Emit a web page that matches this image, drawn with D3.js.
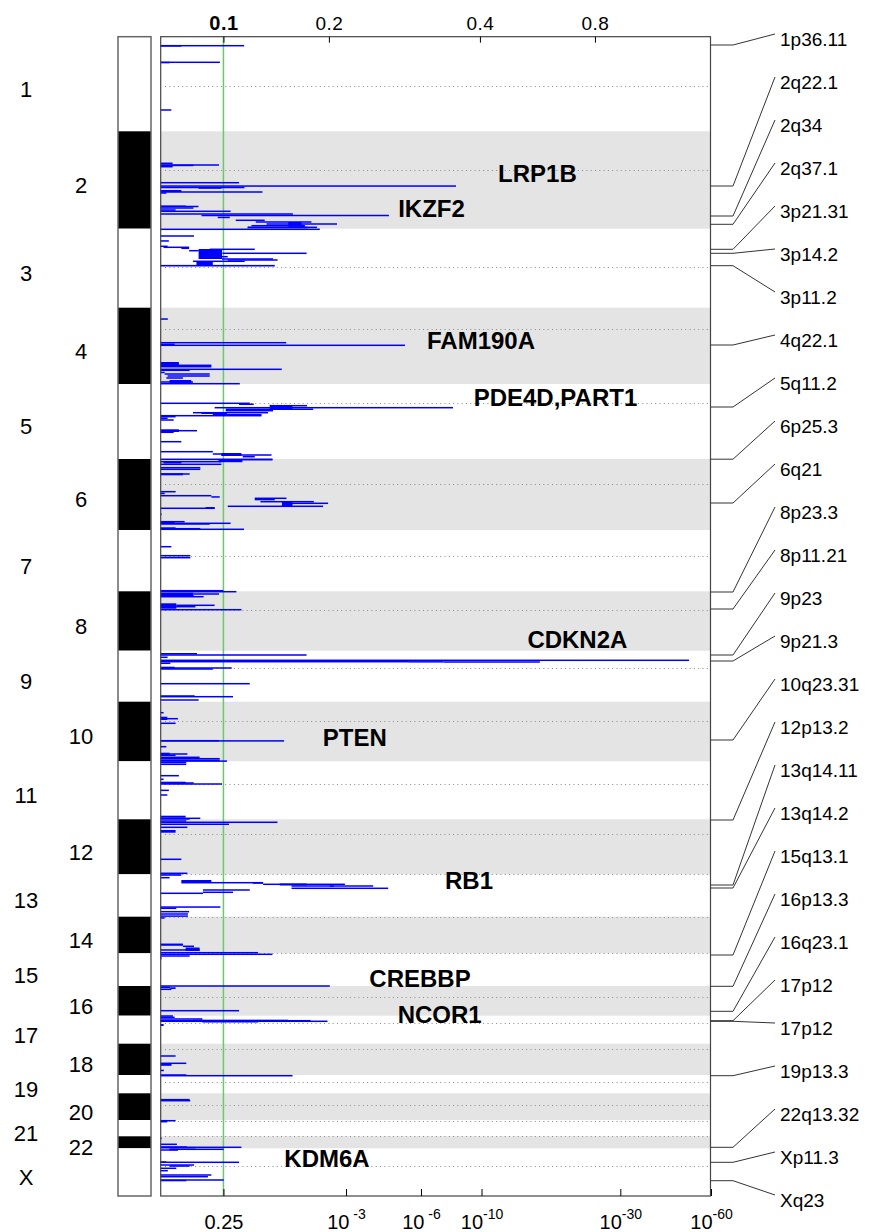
<!DOCTYPE html>
<html>
<head>
<meta charset="utf-8">
<script src="https://cdn.jsdelivr.net/npm/d3@7"></script>
<style>
    body { margin: 0; background: #fff; }
    svg { display: block; }
</style>
</head>
<body>
<div id="chart"></div>
<script>
// Chromosomes, their length on the plot (marker index / 10) and centromere position
var chromosomes = ["1", "2", "3", "4", "5", "6", "7", "8", "9", "10", "11", "12",
    "13", "14", "15", "16", "17", "18", "19", "20", "21", "22", "X"];
var chromLength = [946, 974, 790, 763, 750, 710, 613, 594, 510, 596, 580, 550,
    424, 366, 327, 297, 280, 313, 183, 267, 163, 120, 477];
var centromere = [493, 387, 380, 210, 190, 253, 257, 184, 176, 193, 227, 147,
    0, 0, 0, 107, 76, 53, 73, 114, 7, 0, 174];

// Deletion q-value trace: [chromosome, position, extent, from -log10(q), to -log10(q)]
var deletions = [
    ["1", 90, 0, 0, 0.87], ["1", 85, 10, 0, 0.17], ["1", 256, 0, 0, 0.56], ["1", 251, 10, 0, 0.072],
    ["1", 733, 0, 0, 0.086],
    ["2", 320, 0, 0, 0.096], ["2", 337, 0, 0, 0.55], ["2", 334, 8, 0, 0.28], ["2", 354, 0, 0, 0.096],
    ["2", 514, 0, 0, 0.80], ["2", 540, 14, 0, 8.09], ["2", 562, 0, 0, 0.875], ["2", 560, 6, 0.33, 0.58],
    ["2", 587, 20, 0, 0.17], ["2", 607, 0, 0, 1.144], ["2", 617, 0, 0, 0.046], ["2", 742, 15, 0, 0.21],
    ["2", 752, 0, 0, 0.33], ["2", 767, 0, 0, 0.28], ["2", 787, 0, 0, 0.121], ["2", 800, 0, 0, 0.69],
    ["2", 827, 0, 0, 1.69], ["2", 842, 0, 0.36, 4.51], ["2", 854, 10, 0.535, 0.68], ["2", 890, 0, 0.756, 1.18],
    ["2", 907, 0, 1.039, 2.09], ["2", 927, 0, 1.21, 2.74], ["2", 907, 40, 1.6, 1.87], ["2", 944, 0, 0.975, 1.94],
    ["2", 940, 12, 1.6, 1.94], ["2", 960, 0, 0.92, 2.22], ["2", 955, 12, 0.92, 2.0],
    ["3", 6, 0, 0, 2.29], ["3", 73, 0, 0, 0.286], ["3", 115, 12, 0, 0.066], ["3", 176, 0, 0, 0.056],
    ["3", 186, 0, 0.025, 0.24], ["3", 196, 0, 0.17, 0.24], ["3", 206, 0, 0.446, 1.024], ["3", 203, 100, 0.331, 0.585],
    ["3", 220, 0, 0.24, 0.331], ["3", 246, 0, 0.59, 1.98], ["3", 280, 0, 0.585, 0.654], ["3", 303, 0, 0.585, 1.32],
    ["3", 313, 0, 0.654, 1.40], ["3", 326, 0, 0.276, 0.878], ["3", 333, 30, 0.31, 0.48], ["3", 362, 16, 0, 1.35],
    ["4", 106, 10, 0, 0.058], ["4", 350, 0, 0, 1.56], ["4", 358, 14, 0, 0.113], ["4", 376, 0, 0, 5.21],
    ["4", 543, 40, 0, 0.149], ["4", 576, 0, 0, 0.464], ["4", 590, 0, 0, 0.464], ["4", 616, 0, 0, 1.476],
    ["4", 626, 0, 0, 0.245], ["4", 640, 10, 0, 0.033], ["4", 663, 0, 0.033, 0.446], ["4", 683, 0, 0.056, 0.446],
    ["4", 703, 0, 0.046, 0.184], ["4", 723, 30, 0.072, 0.26], ["4", 743, 0, 0, 0.276], ["4", 760, 0, 0, 0.81],
    ["5", 193, 0, 0, 0.95], ["5", 195, 12, 0.80, 1.009], ["5", 217, 0, 1.264, 1.99], ["5", 237, 0, 0.50, 7.89],
    ["5", 210, 50, 1.264, 1.683], ["5", 245, 15, 0.63, 2.13], ["5", 267, 0, 0.63, 1.32], ["5", 287, 0, 0.276, 1.236],
    ["5", 285, 10, 0.36, 0.645], ["5", 300, 12, 0.48, 1.128], ["5", 317, 0, 0, 1.128], ["5", 327, 0, 0, 0.121],
    ["5", 335, 15, 0, 0.056], ["5", 360, 0, 0, 0.105], ["5", 453, 27, 0, 0.149], ["5", 467, 0, 0, 0.315],
    ["5", 483, 0, 0, 0.105], ["5", 577, 0, 0, 0.17], ["5", 677, 0, 0, 0.48], ["5", 690, 30, 0.578, 0.832],
    ["5", 700, 0, 0.48, 0.585], ["5", 710, 0, 0.578, 1.293], ["5", 727, 0, 0.85, 1.024],
    ["6", 3, 0, 0, 1.31], ["6", 7, 0, 0.535, 1.31], ["6", 2, 30, 0.55, 0.846], ["6", 27, 0, 0, 0.578],
    ["6", 37, 0, 0.025, 0.17], ["6", 53, 0, 0, 0.578], ["6", 87, 0, 0, 0.348], ["6", 103, 0, 0, 0.348],
    ["6", 143, 20, 0, 0.184], ["6", 150, 0, 0, 0.245], ["6", 327, 0, 0, 0.121], ["6", 337, 12, 0, 0.033],
    ["6", 367, 0, 0, 0.464], ["6", 372, 12, 0.464, 0.558], ["6", 393, 0, 1.024, 1.565], ["6", 398, 14, 1.024, 1.35],
    ["6", 427, 0, 1.112, 2.146], ["6", 443, 0, 1.533, 2.50], ["6", 430, 40, 1.48, 1.683], ["6", 473, 0, 0.654, 2.372],
    ["6", 493, 0, 0, 0.50], ["6", 480, 20, 0.403, 0.50], ["6", 553, 0, 0, 0.01], ["6", 627, 23, 0, 0.113],
    ["6", 627, 0, 0, 0.199], ["6", 643, 0, 0, 0.69], ["6", 650, 0, 0, 0.446], ["6", 683, 27, 0, 0.121],
    ["6", 697, 0, 0, 0.348], ["6", 703, 0, 0, 0.868],
    ["7", 167, 0, 0, 0.086], ["7", 257, 0, 0, 0.251], ["7", 277, 0, 0, 0.251], ["7", 607, 0, 0, 0.60],
    ["8", 4, 0, 0, 0.765], ["8", 14, 40, 0, 0.283], ["8", 27, 0, 0.286, 0.55], ["8", 54, 0, 0, 0.382],
    ["8", 120, 54, 0, 0.127], ["8", 140, 0, 0.127, 0.50], ["8", 154, 0, 0, 0.30], ["8", 184, 0, 0, 0.832],
    ["9", 23, 10, 0, 0.315], ["9", 43, 0, 0, 1.98], ["9", 66, 0, 0, 0.056], ["9", 96, 0, 0, 50.8],
    ["9", 104, 10, 5.40, 7.29], ["9", 113, 0, 7.29, 16.0], ["9", 110, 0, 0, 5.40], ["9", 126, 0, 0, 0.078],
    ["9", 160, 20, 0, 0.113], ["9", 173, 0, 0, 0.704], ["9", 183, 0, 0, 0.48], ["9", 330, 0, 0, 0.95],
    ["9", 453, 0, 0, 0.292], ["9", 460, 0, 0, 0.721], ["9", 493, 0, 0, 0.331],
    ["10", 110, 0, 0, 0.025], ["10", 150, 33, 0, 0.054], ["10", 170, 0, 0, 0.141], ["10", 216, 0, 0, 0.121],
    ["10", 390, 0, 0, 0.55], ["10", 392, 0, 0, 1.52], ["10", 450, 0, 0, 0.046], ["10", 510, 26, 0, 0.072],
    ["10", 523, 0, 0, 0.224], ["10", 536, 0, 0, 0.121], ["10", 556, 0, 0, 0.341], ["10", 570, 0, 0, 0.558],
    ["10", 578, 12, 0, 0.558], ["10", 594, 0, 0, 0.645],
    ["11", 12, 0, 0, 0.214], ["11", 30, 0, 0, 0.214], ["11", 144, 0, 0, 0.149], ["11", 180, 0, 0, 0.025],
    ["11", 204, 20, 0, 0.208], ["11", 217, 0, 0, 0.283], ["11", 227, 0, 0, 0.585], ["11", 283, 12, 0, 0.066],
    ["11", 337, 0, 0, 0.054], ["11", 544, 20, 0, 0.208], ["11", 570, 0, 0, 0.348], ["11", 577, 0, 0, 0.245],
    ["12", 17, 0, 0, 0.214], ["12", 30, 0, 0, 1.398], ["12", 42, 12, 0, 0.67], ["12", 80, 0, 0, 0.224],
    ["12", 107, 27, 0, 0.121], ["12", 400, 0, 0, 0.17], ["12", 540, 0, 0, 0.224], ["12", 537, 10, 0, 0.164],
    ["13", 0, 15, 0, 0.17], ["13", 34, 0, 0, 0.072], ["13", 57, 20, 0.17, 0.464], ["13", 84, 0, 0.17, 1.154],
    ["13", 80, 8, 0.994, 1.154], ["13", 100, 0, 1.154, 2.966], ["13", 92, 20, 1.44, 1.978], ["13", 117, 0, 1.663, 3.90],
    ["13", 110, 15, 2.545, 2.65], ["13", 140, 0, 1.663, 4.48], ["13", 157, 0, 0.375, 0.95], ["13", 180, 0, 0.375, 0.721],
    ["13", 190, 0, 0, 0.375], ["13", 320, 10, 0, 0.566], ["13", 340, 0, 0, 0.127], ["13", 374, 0, 0, 0.24],
    ["13", 397, 0, 0, 0.229], ["13", 418, 0, 0, 0.229],
    ["14", 5, 15, 0, 0.033], ["14", 276, 0, 0, 0.184], ["14", 283, 0, 0, 0.184], ["14", 296, 0, 0.184, 0.286],
    ["14", 308, 35, 0.208, 0.341], ["14", 333, 0, 0, 0.341], ["14", 360, 0, 0, 1.075],
    ["15", 10, 0, 0, 1.31], ["15", 27, 0, 0, 0.245], ["15", 40, 20, 0, 0.01],
    ["16", 0, 0, 0, 2.545], ["16", 13, 17, 0.078, 0.121], ["16", 13, 0, 0, 0.078], ["16", 33, 0, 0, 0.086],
    ["16", 247, 0, 0, 0.80],
    ["17", 3, 0, 0, 0.099], ["17", 16, 0, 0, 0.113], ["17", 33, 0, 0, 0.369], ["17", 40, 15, 0.276, 1.596],
    ["17", 50, 0, 0, 2.069], ["17", 56, 0, 0, 2.484], ["17", 48, 20, 0.369, 1.075], ["17", 83, 20, 0, 0.025],
    ["18", 123, 0, 0, 0.121], ["18", 196, 0, 0, 0.214], ["18", 208, 0, 0, 0.086], ["18", 213, 0, 0, 0.086],
    ["18", 260, 10, 0, 0.027],
    ["19", 0, 0, 0, 0.214], ["19", 7, 0, 0, 1.683],
    ["20", 56, 12, 0, 0.245], ["20", 74, 0, 0, 0.25],
    ["21", 7, 0, 0, 0.121], ["21", 17, 0, 0, 0.054],
    ["22", 20, 0, 0, 0.01], ["22", 80, 0, 0, 0.132], ["22", 100, 17, 0, 0.22], ["22", 110, 0, 0, 0.832],
    ["22", 114, 0, 0, 0.30],
    ["X", 10, 0, 0.072, 0.606], ["X", 5, 12, 0.072, 0.141], ["X", 17, 0, 0, 0.141], ["X", 130, 10, 0, 0.046],
    ["X", 140, 0, 0, 0.80], ["X", 167, 0, 0, 0.286], ["X", 170, 12, 0.072, 0.245], ["X", 200, 0, 0, 0.127],
    ["X", 224, 0, 0, 0.058], ["X", 267, 0, 0, 0.464], ["X", 284, 0, 0, 0.427], ["X", 317, 0, 0, 0.606],
    ["X", 315, 6, 0, 0.214]
];

// Significant peaks (cytobands on the right)
var peakBands = ["1p36.11", "2q22.1", "2q34", "2q37.1", "3p21.31", "3p14.2", "3p11.2", "4q22.1",
    "5q11.2", "6p25.3", "6q21", "8p23.3", "8p11.21", "9p23", "9p21.3", "10q23.31", "12p13.2",
    "13q14.11", "13q14.2", "15q13.1", "16p13.3", "16q23.1", "17p12", "17p12", "19p13.3",
    "22q13.32", "Xp11.3", "Xq23"];
var peakChrom = ["1", "2", "2", "2", "3", "3", "3", "4", "5", "6", "6", "8", "8", "9", "9", "10", "12",
    "13", "13", "15", "16", "16", "17", "17", "19", "22", "X", "X"];
var peakPos = [83, 547, 847, 930, 206, 246, 370, 373, 230, 2, 440, 7, 177, 43, 103, 383, 7,
    107, 137, 17, 3, 253, 50, 56, 7, 110, 140, 324];

// Gene annotations
var genes = ["LRP1B", "IKZF2", "FAM190A", "PDE4D,PART1", "CDKN2A", "PTEN", "RB1", "CREBBP", "NCOR1", "KDM6A"];
var geneChrom = ["2", "2", "4", "5", "8", "10", "13", "15", "16", "X"];
var genePos = [422, 767, 323, 130, 477, 353, 57, 247, 287, 97];
var geneQ = [15.7, 6.57, 9.96, 18.1, 21.5, 3.27, 9.02, 5.95, 7.05, 2.47];

// Axis ticks: q-values on the bottom, G-scores on the top
var qTicks = [0.602, 3, 6, 10, 30, 60];
var qTickBase = ["0.25", "10", "10", "10", "10", "10"];
var qTickExp = ["", " -3", " -6", "-10", "-30", "-60"];
var gTicks = ["0.1", "0.2", "0.4", "0.8"];
var gTickQ = [0.602, 2.52, 9.87, 24.65];

var svgWidth = 883;
var svgHeight = 1232;
var font = "'Liberation Sans', Arial, Helvetica, sans-serif";

var plot = { left: 160.7, right: 710.5, top: 36.7, bottom: 1196 };

var svg = d3.select("#chart")
    .append("svg")
    .attr("width", svgWidth)
    .attr("height", svgHeight)
    .style("font-family", font);

// cumulative offsets of each chromosome
var offsets = [];
var total = 0;
chromLength.forEach(function(l) {
    offsets.push(total);
    total += l;
});
var chromIndex = {};
chromosomes.forEach(function(c, i) { chromIndex[c] = i; });

var yScale = d3.scaleLinear()
    .domain([0, total])
    .range([plot.top, plot.bottom]);

var xScale = d3.scaleSymlog()
    .constant(1)
    .domain([0, 60])
    .range([160.3, 711]);

function genomeY(c, p) {
    return yScale(offsets[chromIndex[c]] + p);
}

var chromData = chromosomes.map(function(c, i) {
    return { name: c, i: i, start: offsets[i], end: offsets[i] + chromLength[i], cen: offsets[i] + centromere[i] };
});

// Gray bands for every other chromosome
svg.append("g")
    .selectAll("rect")
    .data(chromData.filter(d => d.i % 2 === 1))
    .join("rect")
    .attr("x", plot.left)
    .attr("y", d => yScale(d.start))
    .attr("width", plot.right - plot.left)
    .attr("height", d => yScale(d.end) - yScale(d.start))
    .attr("fill", "#e4e4e4");

// Centromeres as dotted lines
svg.append("g")
    .selectAll("line")
    .data(chromData)
    .join("line")
    .attr("x1", 165)
    .attr("x2", plot.right)
    .attr("y1", d => Math.round(yScale(d.cen)) + 0.5)
    .attr("y2", d => Math.round(yScale(d.cen)) + 0.5)
    .attr("stroke", "#888")
    .attr("stroke-width", 1)
    .attr("stroke-dasharray", "1,3.3");

// Significance threshold q = 0.25
svg.append("line")
    .attr("x1", xScale(0.602))
    .attr("x2", xScale(0.602))
    .attr("y1", plot.top)
    .attr("y2", plot.bottom)
    .attr("stroke", "#6cc86c")
    .attr("stroke-width", 1.5);

// Deletion trace
svg.append("g")
    .selectAll("rect")
    .data(deletions)
    .join("rect")
    .attr("x", d => xScale(d[3]))
    .attr("width", d => Math.max(0.8, xScale(d[4]) - xScale(d[3])))
    .attr("y", d => d[2] ? genomeY(d[0], d[1]) : genomeY(d[0], d[1]) - 0.75)
    .attr("height", d => d[2] ? Math.max(1.5, genomeY(d[0], d[1] + d[2]) - genomeY(d[0], d[1])) : 1.5)
    .attr("fill", "#0000ff");

// Plot frame
svg.append("rect")
    .attr("x", plot.left)
    .attr("y", plot.top)
    .attr("width", plot.right - plot.left)
    .attr("height", plot.bottom - plot.top)
    .attr("fill", "none")
    .attr("stroke", "#444")
    .attr("stroke-width", 1.2);

// Chromosome ideogram
svg.append("g")
    .selectAll("rect")
    .data(chromData)
    .join("rect")
    .attr("x", 118)
    .attr("y", d => yScale(d.start))
    .attr("width", 33)
    .attr("height", d => yScale(d.end) - yScale(d.start))
    .attr("fill", d => d.i % 2 === 1 ? "#000" : "#fff");

svg.append("rect")
    .attr("x", 118)
    .attr("y", plot.top)
    .attr("width", 33)
    .attr("height", plot.bottom - plot.top)
    .attr("fill", "none")
    .attr("stroke", "#666")
    .attr("stroke-width", 1.5);

// Chromosome labels
svg.append("g")
    .selectAll("text")
    .data(chromData)
    .join("text")
    .attr("x", d => d.i % 2 === 0 ? 26 : 81)
    .attr("y", d => yScale((d.start + d.end) / 2) + 5)
    .attr("dy", "0.36em")
    .attr("text-anchor", "middle")
    .style("font-size", "22px")
    .text(d => d.name);

// Top axis: G-score
var topAxis = d3.axisTop(xScale)
    .tickValues(gTickQ)
    .tickFormat((d, i) => gTicks[i])
    .tickSizeInner(-6)
    .tickSizeOuter(0)
    .tickPadding(7);

var topGroup = svg.append("g")
    .attr("transform", `translate(0, ${plot.top})`)
    .call(topAxis)
    .attr("font-family", font)
    .attr("font-size", 19);
topGroup.select(".domain").remove();
topGroup.selectAll(".tick text")
    .style("letter-spacing", "0.5px")
    .style("font-weight", (d, i) => i === 0 ? "bold" : "normal")
    .style("font-size", (d, i) => i === 0 ? "20px" : "19px");

// Bottom axis: q-value
var bottomAxis = d3.axisBottom(xScale)
    .tickValues(qTicks)
    .tickFormat((d, i) => qTickBase[i])
    .tickSizeInner(-7)
    .tickSizeOuter(0)
    .tickPadding(19);

var bottomGroup = svg.append("g")
    .attr("transform", `translate(0, ${plot.bottom})`)
    .call(bottomAxis)
    .attr("font-family", font)
    .attr("font-size", 20);
bottomGroup.select(".domain").remove();
bottomGroup.selectAll(".tick text").each(function(d, i) {
    if (qTickExp[i]) {
        d3.select(this).append("tspan")
            .attr("dy", -10)
            .style("font-size", "14px")
            .text(qTickExp[i]);
    }
});

// Peak cytoband labels with leader lines
var labelY = d3.scaleLinear()
    .domain([0, peakBands.length - 1])
    .range([39, 1200]);

var peaks = peakBands.map(function(b, i) {
    return { band: b, y: genomeY(peakChrom[i], peakPos[i]), ly: labelY(i) };
});

svg.append("g")
    .selectAll("path")
    .data(peaks)
    .join("path")
    .attr("d", d => `M${plot.right},${d.y} H733 L775,${d.ly - 5}`)
    .attr("fill", "none")
    .attr("stroke", "#333")
    .attr("stroke-width", 1);

svg.append("g")
    .selectAll("text")
    .data(peaks)
    .join("text")
    .attr("x", 780)
    .attr("y", d => d.ly)
    .attr("dy", "0.36em")
    .style("font-size", "19px")
    .text(d => d.band);

// Gene names
svg.append("g")
    .selectAll("text")
    .data(genes)
    .join("text")
    .attr("x", (d, i) => xScale(geneQ[i]))
    .attr("y", (d, i) => genomeY(geneChrom[i], genePos[i]))
    .attr("dy", "0.36em")
    .attr("text-anchor", "middle")
    .style("font-size", "24px")
    .style("font-weight", "bold")
    .text(d => d);
</script>
</body>
</html>
